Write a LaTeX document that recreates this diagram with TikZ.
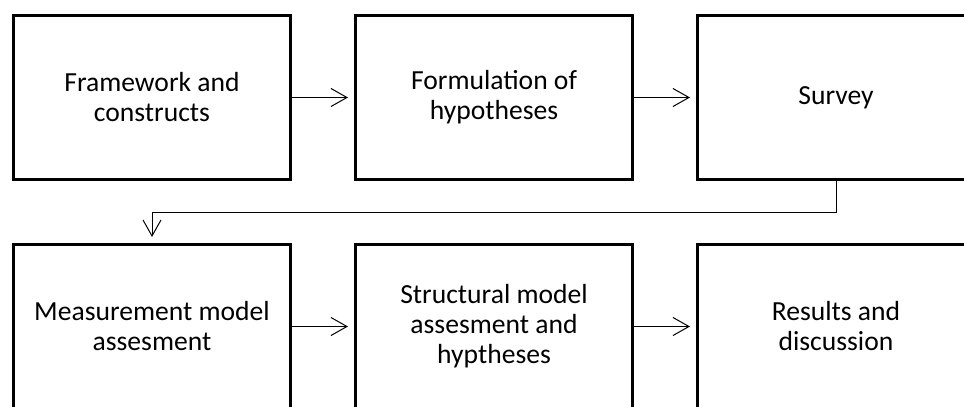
\documentclass[tikz,border=0pt]{standalone}
\usepackage{fontspec}
\setmainfont{Carlito}
\usetikzlibrary{arrows.meta}
\tikzset{
	stage/.style={draw, line width=1.5pt, minimum width=138.5pt, minimum height=82pt,
		inner sep=0pt, align=center, font=\fontsize{13.8pt}{15pt}\selectfont},
	link/.style={line width=0.5pt, shorten >=3pt}
}
\begin{document}
\begin{tikzpicture}[x=0.5pt, y=-0.5pt, >={Straight Barb[length=8pt,width=9pt]}]
	\useasboundingbox (0,0) rectangle (964,407);
	\clip (0,0) rectangle (964,407);
	\path (152,97.5) coordinate (p1)
	++(342,0) coordinate (p2)
	++(342,0) coordinate (p3)
	\foreach \x in {1,2,3}{
		(p\x)++(0,229) coordinate (q\x)
	};
	\node[stage] (s1) at (p1) {Framework and\\constructs};
	\node[stage] (s2) at (p2) {Formulation of\\hypotheses};
	\node[stage] (s3) at (p3) {Survey};
	\node[stage] (s4) at (q1) {Measurement model\\assesment};
	\node[stage] (s5) at (q2) {Structural model\\assesment and\\hyptheses};
	\node[stage] (s6) at (q3) {Results and\\discussion};
	\draw[link, ->] (s1) -- (s2);
	\draw[link, ->] (s2) -- (s3);
	\draw[link, ->] (s3.south) -- ++(0,31) -| (s4.north);
	\draw[link, ->] (s4) -- (s5);
	\draw[link, ->] (s5) -- (s6);
\end{tikzpicture}
\end{document}
